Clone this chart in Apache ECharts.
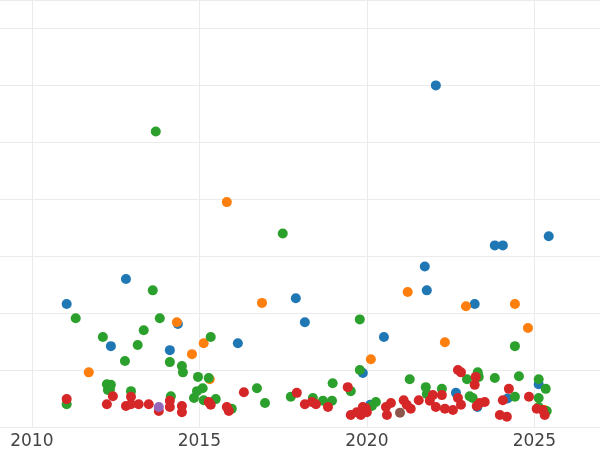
<!DOCTYPE html>
<html>
<head>
<meta charset="utf-8">
<script src="https://cdn.jsdelivr.net/npm/echarts@6/dist/echarts.min.js"></script>
<style>html,body{margin:0;padding:0;background:#fff}#chart{width:600px;height:450px}</style>
</head>
<body>
<div id="chart"></div>
<script>
// [year, value] pairs, one array per colour group
const blueData = [
  [2011.04, 2.16], [2012.36, 1.42], [2012.81, 2.60], [2014.12, 1.35], [2014.36, 1.81],
  [2016.15, 1.47], [2017.88, 2.26], [2018.15, 1.84], [2019.88, 0.95], [2020.10, 0.39],
  [2020.51, 1.58], [2021.73, 2.82], [2021.79, 2.40], [2022.06, 6.00], [2022.66, 0.60],
  [2023.22, 2.16], [2023.30, 0.35], [2023.82, 3.19], [2024.06, 3.19], [2024.20, 0.50],
  [2025.13, 0.75], [2025.43, 3.35]
];
const orangeData = [
  [2011.70, 0.96], [2014.33, 1.84], [2014.78, 1.28], [2015.13, 1.47], [2015.31, 0.84],
  [2015.82, 3.95], [2016.87, 2.18], [2020.12, 1.19], [2021.22, 2.37], [2022.33, 1.49],
  [2022.96, 2.12], [2024.42, 2.16], [2024.81, 1.74], [2025.30, 0.30]
];
const greenData = [
  [2011.04, 0.40], [2011.31, 1.91], [2012.12, 1.58], [2012.24, 0.75], [2012.36, 0.74],
  [2012.27, 0.65], [2012.33, 0.66], [2012.78, 1.16], [2012.96, 0.63], [2013.16, 1.44],
  [2013.34, 1.70], [2013.61, 2.40], [2013.70, 5.19], [2013.82, 1.91], [2014.12, 1.14],
  [2014.15, 0.54], [2014.48, 1.07], [2014.51, 0.96], [2014.84, 0.51], [2014.96, 0.88],
  [2015.10, 0.68], [2014.93, 0.63], [2015.13, 0.47], [2015.28, 0.86], [2015.34, 1.58],
  [2015.49, 0.49], [2015.97, 0.32], [2016.72, 0.68], [2016.96, 0.42], [2017.49, 3.40],
  [2017.73, 0.53], [2018.39, 0.51], [2018.69, 0.46], [2018.98, 0.77], [2018.96, 0.46],
  [2019.52, 0.63], [2019.79, 1.89], [2019.79, 1.00], [2020.27, 0.44], [2020.15, 0.37],
  [2021.28, 0.84], [2021.76, 0.70], [2021.79, 0.58], [2022.24, 0.67], [2022.99, 0.84],
  [2023.31, 0.96], [2023.34, 0.88], [2023.07, 0.54], [2023.16, 0.51], [2023.82, 0.86],
  [2024.42, 1.42], [2024.54, 0.89], [2024.42, 0.53], [2025.13, 0.84], [2025.34, 0.67],
  [2025.13, 0.51], [2025.13, 0.35], [2025.37, 0.28]
];
const redData = [
  [2011.04, 0.49], [2012.24, 0.40], [2012.42, 0.54], [2012.81, 0.37], [2012.96, 0.53],
  [2012.96, 0.40], [2013.19, 0.40], [2013.49, 0.40], [2013.79, 0.28], [2014.12, 0.46],
  [2014.12, 0.35], [2014.48, 0.37], [2014.48, 0.26], [2015.28, 0.44], [2015.34, 0.39],
  [2015.82, 0.35], [2015.88, 0.28], [2016.33, 0.61], [2017.91, 0.60], [2018.15, 0.40],
  [2018.36, 0.44], [2018.48, 0.40], [2018.84, 0.35], [2019.43, 0.70], [2019.52, 0.21],
  [2019.70, 0.26], [2019.82, 0.21], [2019.88, 0.35], [2020.00, 0.26], [2019.97, 0.33],
  [2020.57, 0.35], [2020.60, 0.21], [2020.72, 0.42], [2021.10, 0.47], [2021.19, 0.39],
  [2021.31, 0.32], [2021.55, 0.47], [2021.88, 0.46], [2021.97, 0.56], [2022.06, 0.35],
  [2022.24, 0.56], [2022.33, 0.32], [2022.57, 0.30], [2022.72, 1.00], [2022.81, 0.96],
  [2022.72, 0.51], [2022.81, 0.39], [2023.25, 0.88], [2023.22, 0.74], [2023.28, 0.37],
  [2023.37, 0.42], [2023.52, 0.44], [2023.97, 0.21], [2024.18, 0.18], [2024.06, 0.47],
  [2024.24, 0.67], [2024.84, 0.53], [2025.07, 0.32], [2025.25, 0.30], [2025.31, 0.21]
];
const purpleData = [[2013.79, 0.35]];
const brownData = [[2020.99, 0.25]];
const yearTicks = [2010, 2015, 2020, 2025];

const groups = [
  { data: blueData, color: '#1f77b4' },
  { data: orangeData, color: '#ff7f0e' },
  { data: greenData, color: '#2ca02c' },
  { data: redData, color: '#d62728' },
  { data: purpleData, color: '#9467bd' },
  { data: brownData, color: '#8c564b' }
];

const chart = echarts.init(document.getElementById('chart'));
chart.setOption({
  animation: false,
  grid: { left: 0, right: 0, top: 0, bottom: 23, containLabel: false, outerBoundsMode: 'none' },
  xAxis: {
    type: 'value', min: 2009.05, max: 2026.96,
    axisLine: { show: false },
    axisTick: { show: false, customValues: yearTicks },
    axisLabel: {
      customValues: yearTicks, color: '#444', fontSize: 17, fontFamily: 'DejaVu Sans', margin: 6,
      formatter: v => String(v)
    },
    splitLine: { lineStyle: { color: '#ebebeb' } }
  },
  yAxis: {
    type: 'value', min: 0, max: 7.5, interval: 1,
    axisLine: { show: false }, axisTick: { show: false }, axisLabel: { show: false },
    splitLine: { lineStyle: { color: '#ebebeb' } }
  },
  series: groups.map(g => ({
    type: 'scatter',
    data: g.data,
    symbolSize: 10,
    itemStyle: { color: g.color, opacity: 1 }
  }))
});
</script>
</body>
</html>
